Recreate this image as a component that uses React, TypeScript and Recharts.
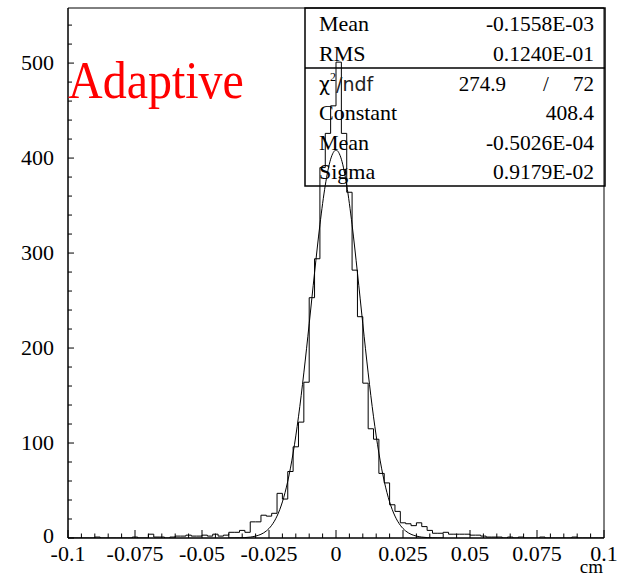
import { LineChart, Line, XAxis, YAxis, ReferenceArea } from "recharts";

// histogram: 100 bins of 0.002 cm, from -0.1 to 0.1
const counts = [
  0, 0, 0, 0, 0, 1, 0, 0, 0, 0, 0, 0, 1, 0, 0, 4, 1, 1, 0, 1,
  2, 2, 3, 2, 2, 3, 2, 4, 2, 3, 6, 6, 8, 6, 17, 17, 24, 23, 26, 47,
  41, 70, 96, 122, 164, 253, 294, 390, 426, 455,
  501, 426, 364, 282, 233, 163, 115, 104, 68, 58, 35, 28, 16, 15, 13, 16,
  12, 8, 5, 5, 6, 4, 4, 4, 4, 3, 3, 2, 1, 1, 1, 0, 1, 0, 1, 0, 0, 0, 1, 0,
  0, 0, 0, 0, 1, 0, 0, 0, 0, 0,
];

// gaussian fit curve
const fitX = [
  -0.04, -0.038, -0.036, -0.034, -0.032, -0.03, -0.028, -0.026, -0.024, -0.022,
  -0.02, -0.018, -0.016, -0.014, -0.012, -0.01, -0.008, -0.006, -0.004, -0.002,
  0, 0.002, 0.004, 0.006, 0.008, 0.01, 0.012, 0.014, 0.016, 0.018, 0.02, 0.022,
  0.024, 0.026, 0.028, 0.03, 0.032, 0.034, 0.036, 0.038, 0.04,
];
const fitY = [
  0.03, 0.08, 0.19, 0.43, 0.94, 2.0, 3.9, 7.4, 13.4, 23.1, 38.0, 59.7, 89.4,
  127.6, 173.8, 225.6, 279.3, 329.8, 371.4, 398.8, 408.4, 398.8, 371.4, 329.8,
  279.3, 225.6, 173.8, 127.6, 89.4, 59.7, 38.0, 23.1, 13.4, 7.4, 3.9, 2.0,
  0.94, 0.43, 0.19, 0.08, 0.03,
];

const xMajor = [-0.1, -0.075, -0.05, -0.025, 0, 0.025, 0.05, 0.075, 0.1];
const xLabels = ["-0.1", "-0.075", "-0.05", "-0.025", "0", "0.025", "0.05", "0.075", "0.1"];
const yMajor = [0, 100, 200, 300, 400, 500];
const yLabels = ["0", "100", "200", "300", "400", "500"];

const statLabels = ["Mean", "RMS"];
const statValues = ["-0.1558E-03", "0.1240E-01"];
const fitLabels = ["Constant", "Mean", "Sigma"];
const fitValues = ["408.4", "-0.5026E-04", "0.9179E-02"];
const chi2 = "274.9";
const ndf = "72";

const histData = counts.map((c, i) => ({ x: (i * 2 - 100) / 1000, y: c }));
histData.push({ x: 0.1, y: counts[counts.length - 1] });
const fitData = fitX.map((x, i) => ({ x, y: fitY[i] }));

const xTicks: number[] = [];
for (let i = -20; i <= 20; i++) xTicks.push(i / 200);
const yTicks: number[] = [];
for (let v = 0; v <= 540; v += 20) yTicks.push(v);

const FONT = "'Liberation Serif', 'Times New Roman', serif";

function XTick(props: any) {
  const { x, y, payload } = props;
  const idx = xMajor.findIndex((m) => Math.abs(m - payload.value) < 1e-9);
  const major = idx >= 0;
  return (
    <g>
      <line x1={x} y1={y} x2={x} y2={y - (major ? 8 : 4.5)} stroke="#000" />
      {major && (
        <text x={x} y={y + 23} textAnchor="middle" fontSize={22} fontFamily={FONT} fill="#000">
          {xLabels[idx]}
        </text>
      )}
    </g>
  );
}

function YTick(props: any) {
  const { x, y, payload } = props;
  const idx = yMajor.indexOf(payload.value);
  const major = idx >= 0;
  return (
    <g>
      <line x1={x} y1={y} x2={x + (major ? 6 : 4)} y2={y} stroke="#000" />
      {major && (
        <text x={x - 14} y={y + (idx === 0 ? 5 : 7)} textAnchor="end" fontSize={22} fontFamily={FONT} fill="#000">
          {yLabels[idx]}
        </text>
      )}
    </g>
  );
}

export default function App() {
  const rowX = 319;
  const valX = 594;
  return (
    <div style={{ position: "relative", width: 619, height: 578, background: "#fff" }}>
      <style>{"body{margin:0}"}</style>
      <LineChart
        width={619}
        height={578}
        margin={{ top: 8, right: 15, bottom: 0, left: 0 }}
      >
        <XAxis
          type="number"
          dataKey="x"
          domain={[-0.1, 0.1]}
          ticks={xTicks}
          interval={0}
          height={40}
          tickSize={0}
          tickMargin={0}
          tick={<XTick />}
          axisLine={{ stroke: "#000" }}
          allowDataOverflow
        />
        <YAxis
          type="number"
          domain={[0, 558]}
          ticks={yTicks}
          interval={0}
          width={68}
          tickSize={0}
          tickMargin={0}
          tick={<YTick />}
          axisLine={{ stroke: "#000" }}
          allowDataOverflow
        />
        <ReferenceArea x1={-0.1} x2={0.1} y1={0} y2={558} fill="none" stroke="#000" strokeWidth={1} />
        <Line
          data={histData}
          dataKey="y"
          type="stepAfter"
          stroke="#000"
          strokeWidth={1}
          dot={false}
          isAnimationActive={false}
        />
        <Line
          data={fitData}
          dataKey="y"
          type="monotone"
          stroke="#000"
          strokeWidth={1}
          dot={false}
          isAnimationActive={false}
        />
      </LineChart>
      <svg
        width={619}
        height={578}
        style={{ position: "absolute", left: 0, top: 0, pointerEvents: "none" }}
        fontFamily={FONT}
      >
        <text
          x={68}
          y={0}
          fontSize={48}
          fill="#ff0000"
          transform="translate(0 98) scale(1 1.12)"
        >
          Adaptive
        </text>
        <rect x={305} y={8} width={300} height={178} fill="none" stroke="#000" strokeWidth={1.5} />
        <line x1={305} y1={68} x2={605} y2={68} stroke="#000" strokeWidth={1.5} />
        {statLabels.map((l, i) => (
          <g key={"s" + i}>
            <text x={rowX} y={31 + i * 30} fontSize={22} fill="#000">{l}</text>
            <text x={valX} y={31 + i * 30} fontSize={21.5} fill="#000" textAnchor="end">{statValues[i]}</text>
          </g>
        ))}
        <text x={rowX} y={91} fontSize={21} fill="#000">
          <tspan fontFamily="'DejaVu Sans', sans-serif" fontSize={19}>χ</tspan>
          <tspan fontSize={12} dy={-10}>2</tspan>
          <tspan fontFamily="'DejaVu Sans', sans-serif" fontSize={19} dy={10} fill="#222">/ndf</tspan>
        </text>
        <text x={506} y={91} fontSize={21} fill="#000" textAnchor="end">{chi2}</text>
        <text x={546} y={91} fontSize={21} fill="#000" textAnchor="middle">/</text>
        <text x={valX} y={91} fontSize={21} fill="#000" textAnchor="end">{ndf}</text>
        {fitLabels.map((l, i) => (
          <g key={"f" + i}>
            <text x={rowX} y={120 + i * 29.5} fontSize={22} fill="#000">{l}</text>
            <text x={valX} y={120 + i * 29.5} fontSize={21.5} fill="#000" textAnchor="end">{fitValues[i]}</text>
          </g>
        ))}
        <text x={603} y={573} fontSize={19} fill="#000" textAnchor="end">cm</text>
      </svg>
    </div>
  );
}
